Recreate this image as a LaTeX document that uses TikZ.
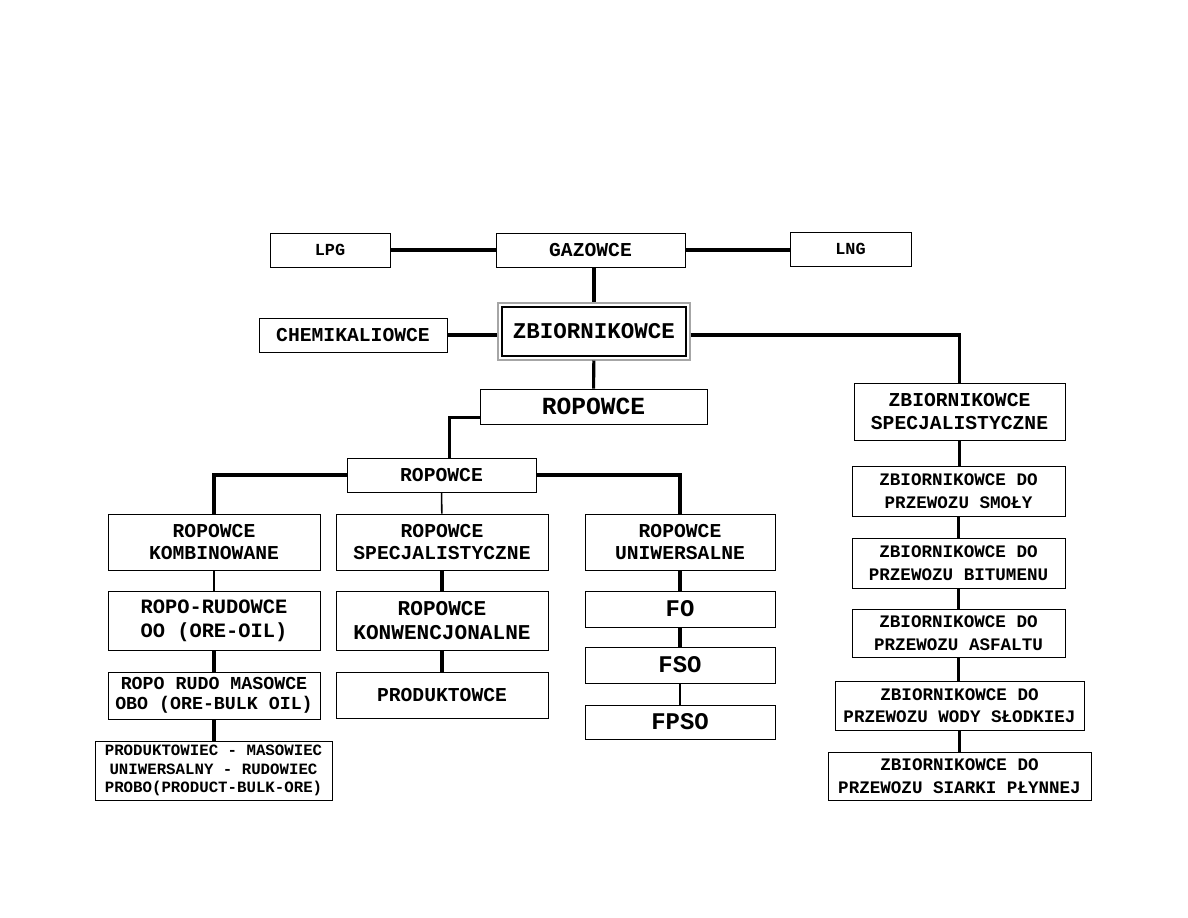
\documentclass[tikz,border=0pt]{standalone}
\usepackage{fontspec}
\newfontfamily\cour{Liberation Mono}
\usepackage{tikz}
\usetikzlibrary{fit,positioning}
\tikzset{
	box/.style={
		draw, rectangle, thin, fill=white,
		align=center, inner sep=0pt, text=black
	},
	fs/.style 2 args={font=\cour\bfseries\fontsize{#1}{#2}\selectfont},
	link/.style={line width=2.2pt},
	thinlink/.style={line width=1.1pt}
}

\begin{document}
\begin{tikzpicture}[x=0.025cm, y=-0.025cm]
	\useasboundingbox (0,0) rectangle (1188,918);
	% gazowce
	\node[box, fs={12}{14}, minimum width=3cm, minimum height=0.85cm] (lpg) at (330,250) {LPG};
	\node[box, fs={14}{17}, minimum width=4.725cm, minimum height=0.85cm] (gaz) at (590.5,250) {GAZOWCE};
	\node[box, fs={12}{14}, minimum width=3.025cm, minimum height=0.85cm] (lng) at (850.5,249) {LNG};
	% main box
	\node[box, fs={16}{19}, line width=2pt, minimum width=4.6cm, minimum height=1.225cm] (zb) at (594,331.5) {ZBIORNIKOWCE};
	\node[draw=gray!70, line width=1.2pt, fit=(zb), inner sep=1.6pt] (zbframe) {};
	\node[box, fs={14}{17}, minimum width=4.7cm, minimum height=0.85cm] (chem) at (353,335) {CHEMIKALIOWCE};
	% ropowce
	\node[box, fs={17.5}{20}, minimum width=5.675cm, minimum height=0.875cm] (ropa) at (593.5,406.5) {ROPOWCE};
	\node[box, fs={14}{17}, minimum width=4.725cm, minimum height=0.85cm] (ropb) at (441.5,475) {ROPOWCE};
	\node[box, fs={14}{16.3}, minimum width=5.3cm, minimum height=1.4cm] (komb) at (214,542) {ROPOWCE\\KOMBINOWANE};
	\node[box, fs={14}{16.3}, minimum width=5.3cm, minimum height=1.4cm] (spec) at (442,542) {ROPOWCE\\SPECJALISTYCZNE};
	\node[box, fs={14}{16.3}, minimum width=4.75cm, minimum height=1.4cm] (uniw) at (680,542) {ROPOWCE\\UNIWERSALNE};
	\node[box, fs={14.5}{17}, minimum width=5.3cm, minimum height=1.475cm] (rr) at (214,620.5) {ROPO-RUDOWCE\\OO (ORE-OIL)};
	\node[box, fs={13}{14.5}, minimum width=5.3cm, minimum height=1.175cm] (obo) at (214,695.5) {ROPO RUDO MASOWCE\\OBO (ORE-BULK OIL)};
	\node[box, fs={11.2}{13.2}, minimum width=5.925cm, minimum height=1.475cm] (probo) at (213.5,770.5) {PRODUKTOWIEC - MASOWIEC\\UNIWERSALNY - RUDOWIEC\\PROBO(PRODUCT-BULK-ORE)};
	\node[box, fs={15}{17}, minimum width=5.3cm, minimum height=1.475cm] (konw) at (442,620.5) {ROPOWCE\\KONWENCJONALNE};
	\node[box, fs={14}{17}, minimum width=5.3cm, minimum height=1.15cm] (prod) at (442,695) {PRODUKTOWCE};
	\node[box, fs={17}{19}, minimum width=4.75cm, minimum height=0.9cm] (fo) at (680,609) {FO};
	\node[box, fs={17}{19}, minimum width=4.75cm, minimum height=0.9cm] (fso) at (680,665) {FSO};
	\node[box, fs={17}{19}, minimum width=4.75cm, minimum height=0.85cm] (fpso) at (680,722) {FPSO};
	% zbiornikowce specjalistyczne
	\node[box, fs={14}{17}, minimum width=5.275cm, minimum height=1.425cm] (zbs) at (959.5,411.5) {ZBIORNIKOWCE\\SPECJALISTYCZNE};
	\node[box, fs={12.5}{16}, minimum width=5.325cm, minimum height=1.25cm] (smoly) at (958.5,491) {ZBIORNIKOWCE DO\\PRZEWOZU SMOŁY};
	\node[box, fs={12.5}{16}, minimum width=5.325cm, minimum height=1.25cm] (bitum) at (958.5,563) {ZBIORNIKOWCE DO\\PRZEWOZU BITUMENU};
	\node[box, fs={12.5}{16}, minimum width=5.325cm, minimum height=1.2cm] (asf) at (958.5,633) {ZBIORNIKOWCE DO\\PRZEWOZU ASFALTU};
	\node[box, fs={12.5}{16}, minimum width=6.225cm, minimum height=1.225cm] (woda) at (959.5,705.5) {ZBIORNIKOWCE DO\\PRZEWOZU WODY SŁODKIEJ};
	\node[box, fs={12.5}{16}, minimum width=6.575cm, minimum height=1.2cm] (siarka) at (959.5,776) {ZBIORNIKOWCE DO\\PRZEWOZU SIARKI PŁYNNEJ};
	% connections
	\draw[link] (lpg) -- (gaz);
	\draw[link] (gaz.east) -- (lng.west |- gaz.east);
	\draw[link] (gaz.south -| zbframe) -- (zbframe);
	\draw[link] (chem) -- (zbframe.west |- chem.east);
	\draw[link] (zbframe.east |- chem.east) -| (zbs.north);
	\draw[link] (zbframe) -- (ropa);
	\draw[link] ([yshift=-0.28cm]ropa.west) -| ([xshift=0.19cm]ropb.north);
	\draw[link] (ropb.west) -| (komb.north);
	\draw[link] (ropb.east) -| (uniw.north);
	\draw[thinlink] (ropb) -- (spec);
	\draw[thinlink] (komb) -- (rr);
	\draw[link] (rr) -- (obo);
	\draw[link] (obo) -- (obo |- probo.north);
	\draw[link] (spec) -- (konw);
	\draw[link] (konw) -- (prod);
	\draw[link] (uniw) -- (fo);
	\draw[link] (fo) -- (fso);
	\draw[thinlink] (fso) -- (fpso);
	\draw[link] (zbs) -- (zbs |- smoly.north);
	\draw[link] (smoly) -- (bitum);
	\draw[link] (bitum) -- (asf);
	\draw[link] (asf) -- (asf |- woda.north);
	\draw[link] (woda) -- (siarka);
\end{tikzpicture}
\end{document}
